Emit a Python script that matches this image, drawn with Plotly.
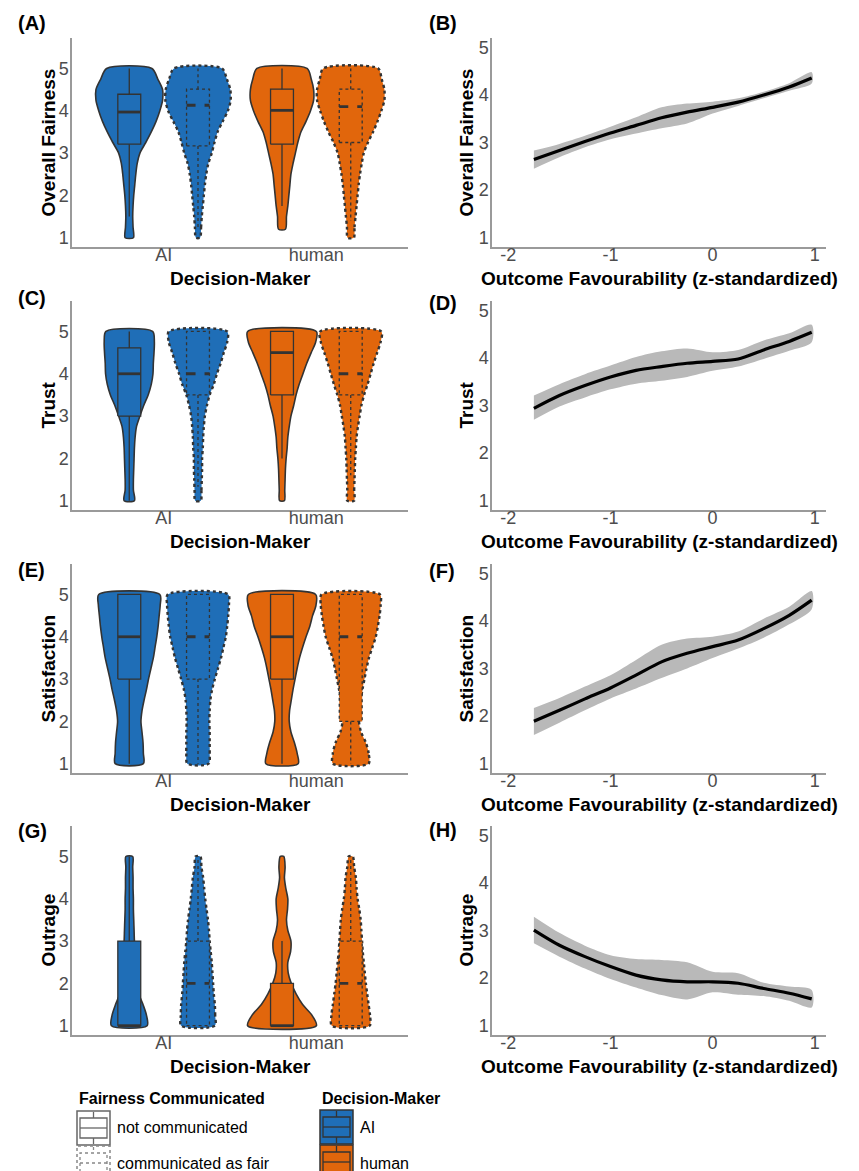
import plotly.graph_objects as go

W, H = 859, 1171

# ---------------- data ----------------
CATS = ["AI", "human"]
Y_GRID = [1.0, 1.25, 1.5, 1.75, 2.0, 2.25, 2.5, 2.75, 3.0, 3.25, 3.5, 3.75, 4.0, 4.25, 4.5, 4.75, 5.0]

# relative violin densities along Y_GRID (AI / human x not communicated / communicated)
fair_ai_nc = [0.12, 0.11, 0.10, 0.11, 0.13, 0.16, 0.19, 0.23, 0.31, 0.48, 0.64, 0.78, 0.89, 0.97, 0.97, 0.83, 0.66]
fair_ai_c  = [0.06, 0.09, 0.11, 0.14, 0.17, 0.20, 0.24, 0.30, 0.40, 0.48, 0.57, 0.72, 0.87, 0.95, 0.94, 0.84, 0.70]
fair_hu_nc = [0.10, 0.10, 0.13, 0.17, 0.20, 0.23, 0.26, 0.32, 0.39, 0.46, 0.55, 0.70, 0.83, 0.92, 0.92, 0.85, 0.73]
fair_hu_c  = [0.09, 0.11, 0.14, 0.17, 0.20, 0.23, 0.27, 0.32, 0.38, 0.50, 0.65, 0.78, 0.89, 0.98, 0.98, 0.90, 0.80]
fair_min = [1.0, 1.0, 1.2, 1.0]

trust_ai_nc = [0.15, 0.12, 0.12, 0.13, 0.14, 0.15, 0.17, 0.21, 0.31, 0.42, 0.55, 0.64, 0.69, 0.70, 0.72, 0.73, 0.68]
trust_ai_c  = [0.08, 0.10, 0.11, 0.12, 0.12, 0.14, 0.15, 0.17, 0.20, 0.26, 0.34, 0.46, 0.55, 0.66, 0.75, 0.85, 0.85]
trust_hu_nc = [0.07, 0.08, 0.09, 0.10, 0.12, 0.15, 0.17, 0.21, 0.26, 0.34, 0.41, 0.50, 0.61, 0.72, 0.85, 0.98, 1.00]
trust_hu_c  = [0.10, 0.10, 0.11, 0.12, 0.13, 0.15, 0.17, 0.21, 0.26, 0.31, 0.39, 0.49, 0.58, 0.67, 0.77, 0.87, 0.89]
trust_min = [1.0, 1.0, 1.0, 1.0]

satis_ai_nc = [0.41, 0.41, 0.40, 0.37, 0.34, 0.37, 0.43, 0.50, 0.56, 0.63, 0.70, 0.75, 0.80, 0.84, 0.87, 0.90, 0.89]
satis_ai_c  = [0.31, 0.34, 0.34, 0.34, 0.33, 0.34, 0.36, 0.41, 0.49, 0.58, 0.67, 0.74, 0.81, 0.85, 0.88, 0.90, 0.88]
satis_hu_nc = [0.47, 0.44, 0.36, 0.26, 0.21, 0.22, 0.27, 0.32, 0.38, 0.44, 0.51, 0.60, 0.70, 0.81, 0.89, 0.99, 0.98]
satis_hu_c  = [0.52, 0.52, 0.44, 0.30, 0.24, 0.27, 0.29, 0.34, 0.40, 0.46, 0.53, 0.63, 0.73, 0.79, 0.84, 0.87, 0.85]
satis_min = [1.0, 1.0, 1.0, 1.0]

outr_ai_nc = [0.52, 0.50, 0.40, 0.28, 0.25, 0.22, 0.20, 0.18, 0.15, 0.14, 0.13, 0.12, 0.12, 0.11, 0.11, 0.10, 0.10]
outr_ai_c  = [0.49, 0.50, 0.49, 0.46, 0.44, 0.42, 0.40, 0.37, 0.34, 0.32, 0.29, 0.25, 0.21, 0.18, 0.15, 0.10, 0.07]
outr_hu_nc = [1.00, 0.87, 0.60, 0.41, 0.27, 0.18, 0.17, 0.25, 0.26, 0.17, 0.13, 0.16, 0.17, 0.11, 0.07, 0.09, 0.05]
outr_hu_c  = [0.55, 0.56, 0.52, 0.48, 0.44, 0.41, 0.38, 0.35, 0.33, 0.31, 0.29, 0.25, 0.20, 0.17, 0.15, 0.10, 0.06]
outr_min = [1.0, 1.0, 1.0, 1.0]

# box stats: [lower whisker, q1, median, q3, upper whisker]
fair_box  = [[1.5, 3.21, 3.97, 4.39, 5.0], [1.2, 3.17, 4.13, 4.51, 5.0],
             [1.75, 3.21, 4.01, 4.51, 5.0], [1.4, 3.25, 4.10, 4.51, 5.0]]
trust_box = [[1.0, 3.0, 4.0, 4.61, 5.0], [1.33, 3.5, 4.0, 5.0, 5.0],
             [2.0, 3.5, 4.5, 5.0, 5.0], [1.6, 3.5, 4.0, 5.0, 5.0]]
satis_box = [[1.0, 3.0, 4.0, 5.0, 5.0], [1.0, 3.0, 4.0, 5.0, 5.0],
             [1.0, 3.0, 4.0, 5.0, 5.0], [1.0, 2.0, 4.0, 5.0, 5.0]]
outr_box  = [[1.0, 1.0, 1.0, 3.0, 5.0], [1.0, 1.0, 2.0, 3.0, 5.0],
             [1.0, 1.0, 1.0, 2.0, 3.0], [1.0, 1.0, 2.0, 3.0, 5.0]]

# smooth fits vs outcome favourability
FAV_X = [-1.75, -1.5, -1.25, -1.0, -0.75, -0.5, -0.25, 0.0, 0.25, 0.5, 0.75, 0.97]
fair_fit = [2.64, 2.83, 3.02, 3.20, 3.36, 3.52, 3.64, 3.74, 3.85, 4.00, 4.17, 4.36]
fair_lo  = [2.45, 2.69, 2.90, 3.07, 3.19, 3.30, 3.40, 3.61, 3.77, 3.93, 4.09, 4.24]
fair_hi  = [2.83, 2.97, 3.14, 3.33, 3.53, 3.74, 3.82, 3.86, 3.93, 4.07, 4.25, 4.48]
trust_fit = [2.94, 3.21, 3.42, 3.60, 3.74, 3.82, 3.89, 3.93, 3.98, 4.17, 4.35, 4.54]
trust_lo  = [2.70, 2.98, 3.17, 3.34, 3.46, 3.52, 3.60, 3.73, 3.82, 3.98, 4.15, 4.33]
trust_hi  = [3.21, 3.45, 3.66, 3.84, 4.02, 4.14, 4.20, 4.12, 4.17, 4.37, 4.52, 4.70]
satis_fit = [1.89, 2.12, 2.36, 2.59, 2.86, 3.14, 3.32, 3.46, 3.60, 3.84, 4.12, 4.44]
satis_lo  = [1.60, 1.86, 2.12, 2.37, 2.58, 2.80, 3.00, 3.22, 3.42, 3.65, 3.93, 4.25]
satis_hi  = [2.17, 2.38, 2.62, 2.86, 3.18, 3.50, 3.63, 3.67, 3.78, 4.05, 4.30, 4.63]
outr_fit = [3.01, 2.69, 2.45, 2.24, 2.06, 1.96, 1.92, 1.92, 1.89, 1.78, 1.68, 1.56]
outr_lo  = [2.73, 2.45, 2.20, 1.98, 1.80, 1.64, 1.55, 1.70, 1.65, 1.62, 1.52, 1.38]
outr_hi  = [3.29, 2.95, 2.68, 2.48, 2.40, 2.38, 2.33, 2.13, 2.10, 1.90, 1.82, 1.75]

OUTCOMES = ["Overall Fairness", "Trust", "Satisfaction", "Outrage"]
LEFT_LABELS = ["(A)", "(C)", "(E)", "(G)"]
RIGHT_LABELS = ["(B)", "(D)", "(F)", "(H)"]

# ---------------- style ----------------
BLUE = "#1F6EB7"
ORANGE = "#E1660C"
DARK = "#333333"
AXIS_C = "#9a9a9a"
TICK_C = "#4d4d4d"
RIBBON = "#b9b9b9"
FONT = "Liberation Sans, Arial, sans-serif"
DODGE = 0.9
MAXHALF = DODGE / 4
BOXHALF = 0.075

LEFT_X = (64, 400)
RIGHT_X = (484, 818)
ROW_TOP = [30, 293, 556, 818]
PANEL_H = 209
LABEL_Y_L = [15, 290, 562, 823]
LABEL_Y_R = [15, 295, 563, 822]

def px(x):
    return x / W

def py(y):
    return 1 - y / H

fig = go.Figure()

violin_sets = [
    ([fair_ai_nc, fair_ai_c, fair_hu_nc, fair_hu_c], fair_min, fair_box),
    ([trust_ai_nc, trust_ai_c, trust_hu_nc, trust_hu_c], trust_min, trust_box),
    ([satis_ai_nc, satis_ai_c, satis_hu_nc, satis_hu_c], satis_min, satis_box),
    ([outr_ai_nc, outr_ai_c, outr_hu_nc, outr_hu_c], outr_min, outr_box),
]
fit_sets = [
    (fair_fit, fair_lo, fair_hi),
    (trust_fit, trust_lo, trust_hi),
    (satis_fit, satis_lo, satis_hi),
    (outr_fit, outr_lo, outr_hi),
]

annotations = []
layout_axes = {}

for r in range(4):
    top = ROW_TOP[r]
    bot = top + PANEL_H
    ydom = [py(bot), py(top)]
    li = 2 * r + 1
    ri = 2 * r + 2
    xl = "x" if li == 1 else f"x{li}"
    yl = "y" if li == 1 else f"y{li}"
    xr = f"x{ri}"
    yr = f"y{ri}"
    axis_common = dict(showgrid=False, zeroline=False, showline=True, linecolor=AXIS_C,
                       linewidth=1.5, ticks="", tickfont=dict(size=18, color=TICK_C, family=FONT))
    layout_axes["xaxis" if li == 1 else f"xaxis{li}"] = dict(
        domain=[px(LEFT_X[0]), px(LEFT_X[1])], anchor=yl, range=[0.4, 2.6],
        tickvals=[1, 2], ticktext=CATS, ticklabelstandoff=-9, **axis_common)
    layout_axes["yaxis" if li == 1 else f"yaxis{li}"] = dict(
        domain=ydom, anchor=xl, range=[0.78, 5.72], tickvals=[1, 2, 3, 4, 5],
        ticklabelstandoff=-2, **axis_common)
    layout_axes[f"xaxis{ri}"] = dict(
        domain=[px(RIGHT_X[0]), px(RIGHT_X[1])], anchor=yr, range=[-2.16, 1.11],
        tickvals=[-2, -1, 0, 1], ticktext=["-2", "-1", "0", "1"], ticklabelstandoff=-9, **axis_common)
    layout_axes[f"yaxis{ri}"] = dict(
        domain=ydom, anchor=xr, range=[0.8, 5.2], tickvals=[1, 2, 3, 4, 5],
        ticklabelstandoff=-2, **axis_common)

    dens_list, mins, boxes = violin_sets[r]
    for k in range(4):
        cat = k // 2 + 1
        comm = k % 2
        center = cat + (MAXHALF if comm else -MAXHALF)
        color = BLUE if cat == 1 else ORANGE
        ys = [max(g, mins[k]) for g in Y_GRID]
        d = dens_list[k]
        pts_y, pts_d = [], []
        for yy, dd in zip(ys, d):
            if pts_y and yy - pts_y[-1] < 0.1:
                continue
            pts_y.append(yy)
            pts_d.append(dd)
        vx = [center + dd * MAXHALF for dd in pts_d] + [center - dd * MAXHALF for dd in pts_d[::-1]]
        vy = pts_y + pts_y[::-1]
        vx.append(vx[0]); vy.append(vy[0])
        fig.add_trace(go.Scatter(
            x=vx, y=vy, xaxis=xl, yaxis=yl, mode="lines", fill="toself", fillcolor=color,
            line=dict(color=DARK, width=2.4 if comm else 1.6, dash="dot" if comm else "solid",
                      shape="spline", smoothing=0.8),
            hoverinfo="skip", showlegend=False))
        lw, q1, med, q3, uw = boxes[k]
        dash = "dot" if comm else "solid"
        # box body
        fig.add_trace(go.Scatter(
            x=[center - BOXHALF, center + BOXHALF, center + BOXHALF, center - BOXHALF, center - BOXHALF],
            y=[q1, q1, q3, q3, q1], xaxis=xl, yaxis=yl, mode="lines", fill="toself", fillcolor=color,
            line=dict(color=DARK, width=1.3, dash=dash), hoverinfo="skip", showlegend=False))
        # whiskers
        fig.add_trace(go.Scatter(
            x=[center, center, None, center, center], y=[q3, uw, None, q1, lw],
            xaxis=xl, yaxis=yl, mode="lines", line=dict(color=DARK, width=1.3, dash=dash),
            hoverinfo="skip", showlegend=False))
        # median
        fig.add_trace(go.Scatter(
            x=[center - BOXHALF, center + BOXHALF], y=[med, med], xaxis=xl, yaxis=yl, mode="lines",
            line=dict(color=DARK, width=2.8, dash="dash" if comm else "solid"),
            hoverinfo="skip", showlegend=False))

    fit, lo, hi = fit_sets[r]
    fig.add_trace(go.Scatter(
        x=FAV_X + FAV_X[::-1], y=hi + lo[::-1], xaxis=xr, yaxis=yr, mode="lines", fill="toself",
        fillcolor=RIBBON, line=dict(width=0, shape="spline", smoothing=0.8),
        hoverinfo="skip", showlegend=False))
    fig.add_trace(go.Scatter(
        x=FAV_X, y=fit, xaxis=xr, yaxis=yr, mode="lines",
        line=dict(color="black", width=3.2, shape="spline", smoothing=0.8),
        hoverinfo="skip", showlegend=False))

    # titles
    title_font = dict(size=19, color="black", family=FONT)
    mid = (top + bot) / 2
    annotations.append(dict(text="<b>%s</b>" % OUTCOMES[r], x=px(40), y=py(mid), xref="paper", yref="paper",
                            textangle=-90, showarrow=False, font=title_font, xanchor="center", yanchor="middle"))
    annotations.append(dict(text="<b>%s</b>" % OUTCOMES[r], x=px(458), y=py(mid), xref="paper", yref="paper",
                            textangle=-90, showarrow=False, font=title_font, xanchor="center", yanchor="middle"))
    annotations.append(dict(text="<b>Decision-Maker</b>", x=px(sum(LEFT_X) / 2), y=py(bot + 31),
                            xref="paper", yref="paper", showarrow=False, font=title_font,
                            xanchor="center", yanchor="middle"))
    annotations.append(dict(text="<b>Outcome Favourability (z-standardized)</b>", x=px(sum(RIGHT_X) / 2),
                            y=py(bot + 31), xref="paper", yref="paper", showarrow=False, font=title_font,
                            xanchor="center", yanchor="middle"))
    annotations.append(dict(text="<b>%s</b>" % LEFT_LABELS[r], x=px(8), y=py(LABEL_Y_L[r]), xref="paper",
                            yref="paper", showarrow=False, font=dict(size=20, color="black", family=FONT),
                            xanchor="left", yanchor="middle"))
    annotations.append(dict(text="<b>%s</b>" % RIGHT_LABELS[r], x=px(419), y=py(LABEL_Y_R[r]), xref="paper",
                            yref="paper", showarrow=False, font=dict(size=20, color="black", family=FONT),
                            xanchor="left", yanchor="middle"))

# ---------------- legend (drawn manually) ----------------
shapes = []
leg_font = dict(size=16, color="black", family=FONT)

def rect(x0, y0, x1, y1, line_color, fill, width=1.3, dash="solid"):
    shapes.append(dict(type="rect", xref="paper", yref="paper", x0=px(x0), x1=px(x1), y0=py(y1), y1=py(y0),
                       line=dict(color=line_color, width=width, dash=dash), fillcolor=fill, layer="above"))

def seg(x0, y0, x1, y1, color, width=1.3, dash="solid"):
    shapes.append(dict(type="line", xref="paper", yref="paper", x0=px(x0), x1=px(x1), y0=py(y0), y1=py(y1),
                       line=dict(color=color, width=width, dash=dash), layer="above"))

def key(x0, y0, outer_c, inner_c, fill, dash):
    x1, y1 = x0 + 33, y0 + 34
    rect(x0, y0, x1, y1, outer_c, fill, width=1.5, dash=dash)
    rect(x0 + 3, y0 + 7, x1 - 3, y1 - 7, inner_c, fill, width=1.3, dash=dash)
    seg(x0 + 3, y0 + 17, x1 - 3, y0 + 17, inner_c, 1.3, dash)
    xc = (x0 + x1) / 2
    seg(xc, y0 + 1, xc, y0 + 7, inner_c, 1.3, dash)
    seg(xc, y1 - 7, xc, y1 - 1, inner_c, 1.3, dash)

key(69, 1103, "#666666", "#666666", "white", "solid")
key(69, 1138, "#888888", "#888888", "white", "dot")
key(312, 1102, DARK, DARK, BLUE, "solid")
key(312, 1137, DARK, DARK, ORANGE, "solid")

annotations += [
    dict(text="<b>Fairness Communicated</b>", x=px(69), y=py(1090), xref="paper", yref="paper",
         showarrow=False, font=leg_font, xanchor="left", yanchor="middle"),
    dict(text="<b>Decision-Maker</b>", x=px(312), y=py(1090), xref="paper", yref="paper",
         showarrow=False, font=leg_font, xanchor="left", yanchor="middle"),
    dict(text="not communicated", x=px(107), y=py(1119), xref="paper", yref="paper",
         showarrow=False, font=leg_font, xanchor="left", yanchor="middle"),
    dict(text="communicated as fair", x=px(107), y=py(1155), xref="paper", yref="paper",
         showarrow=False, font=leg_font, xanchor="left", yanchor="middle"),
    dict(text="AI", x=px(350), y=py(1119), xref="paper", yref="paper",
         showarrow=False, font=leg_font, xanchor="left", yanchor="middle"),
    dict(text="human", x=px(350), y=py(1155), xref="paper", yref="paper",
         showarrow=False, font=leg_font, xanchor="left", yanchor="middle"),
]

fig.update_layout(
    width=W, height=H, margin=dict(l=0, r=0, t=0, b=0),
    paper_bgcolor="white", plot_bgcolor="white", showlegend=False,
    font=dict(family=FONT), annotations=annotations, shapes=shapes, **layout_axes)

fig.write_html("out.html")
